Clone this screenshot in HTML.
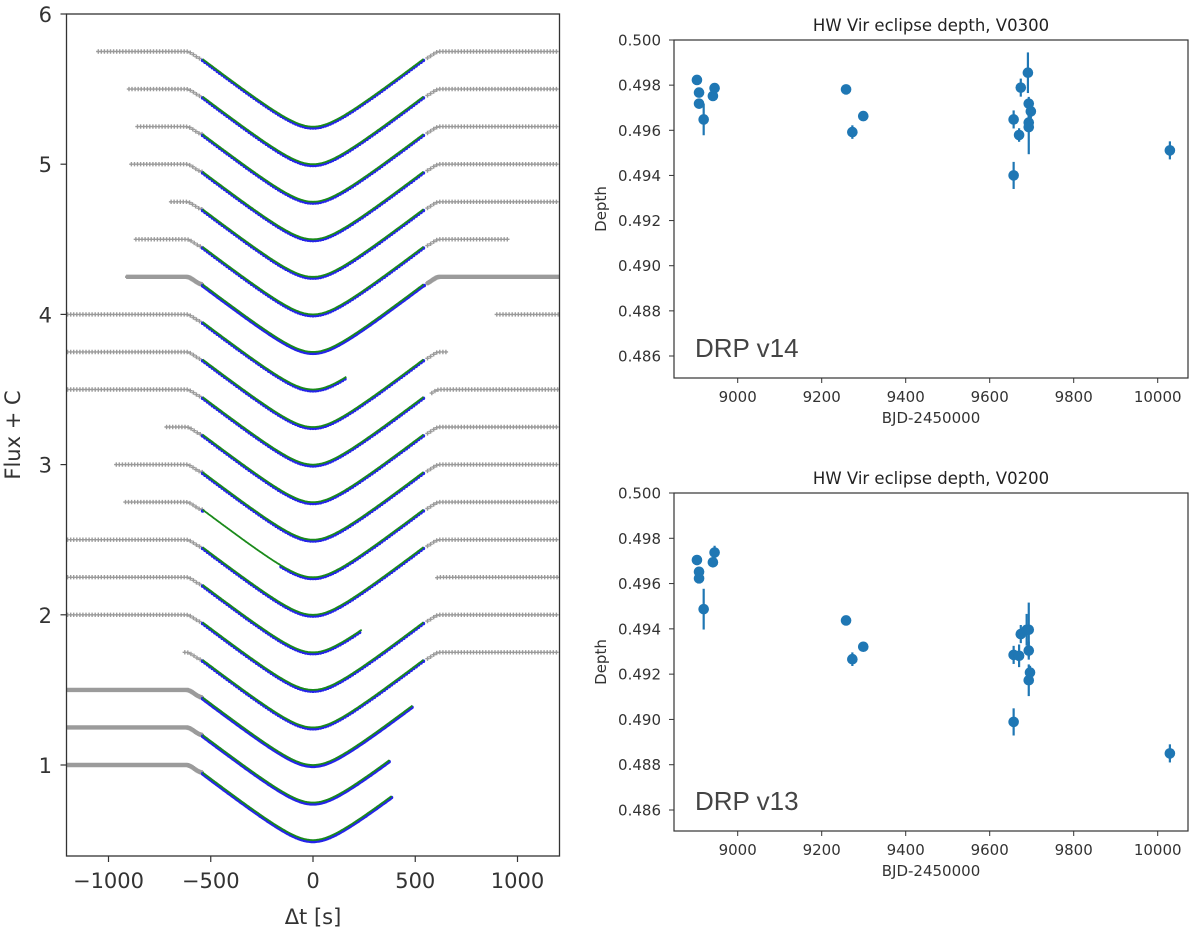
<!DOCTYPE html>
<html><head><meta charset="utf-8"><style>
html,body{margin:0;padding:0;background:#fff;}
svg{display:block;font-family:"DejaVu Sans","Liberation Sans",sans-serif;}
</style></head><body>
<svg id="fig" width="1200" height="931" viewBox="0 0 1200 931" xmlns="http://www.w3.org/2000/svg">
<g id="left"></g>
<g id="top"></g>
<g id="bot"></g>
</svg>
<script>
// ---- left panel data: one row per eclipse ----
const rowBaselines = [5.75,5.5,5.25,5.0,4.75,4.5,4.25,4.0,3.75,3.5,3.25,3.0,2.75,2.5,2.25,2.0,1.75,1.5,1.25,1.0];
const rowLeftStart = [-1050,-900,-858,-888,-694,-866,-908,-1200,-1200,-1200,-716,-962,-917,-1200,-1200,-1200,-627,-1200,-1200,-1200];
const rowDipEnd    = [540,540,540,540,540,540,545,163,540,540,540,540,540,540,238,540,540,486,374,384];
const rowRightStart= [560,560,560,560,560,560,560,899,560,581,560,560,560,560,608,560,560,null,null,null];
const rowRightEnd  = [1200,1200,1200,1200,1200,963,1200,1200,656,1200,1200,1200,1200,1200,1200,1200,1200,null,null,null];
const rowDense     = [0,0,0,0,0,0,1,0,0,0,0,0,0,0,0,0,0,1,1,1];
const rowGapStart  = [null,null,null,null,null,null,null,null,null,null,null,null,-540,null,null,null,null,null,null,null];
const rowGapEnd    = [null,null,null,null,null,null,null,null,null,null,null,null,-160,null,null,null,null,null,null,null];
const leftXTicks = [-1000,-500,0,500,1000];
const leftXTickLabels = ["\u22121000","\u2212500","0","500","1000"];
const leftYTicks = [1,2,3,4,5,6];

// ---- right panels data ----
const v14Dates = [8903,8908,8908,8919,8941,8945,9258,9273,9299,9657,9657,9670,9674,9691,9693,9693,9693,9698,10029];
const v14Depth = [0.49823,0.49767,0.49718,0.49648,0.49752,0.49787,0.49781,0.49592,0.49663,0.49648,0.49400,0.49579,0.49789,0.49855,0.49718,0.49634,0.49614,0.49684,0.49511];
const v14Err   = [0.0002,0.0002,0.0002,0.0007,0.0002,0.0002,0.0002,0.0003,0.0002,0.0004,0.0006,0.0003,0.0004,0.0009,0.0003,0.0004,0.0012,0.0003,0.0004];
const v13Dates = [8903,8908,8908,8919,8941,8945,9258,9273,9299,9657,9657,9670,9674,9688,9693,9693,9693,9696,10029];
const v13Depth = [0.49704,0.49652,0.49623,0.49487,0.49694,0.49737,0.49437,0.49266,0.49321,0.49285,0.48989,0.49281,0.49377,0.49396,0.49396,0.49304,0.49173,0.49207,0.48850];
const v13Err   = [0.0002,0.0002,0.0002,0.0009,0.0002,0.0003,0.0002,0.0003,0.0002,0.0004,0.0006,0.0005,0.0004,0.0007,0.0012,0.0004,0.0007,0.0003,0.0004];
const rXTicks = [9000,9200,9400,9600,9800,10000];
const rYTicks = [0.486,0.488,0.490,0.492,0.494,0.496,0.498,0.500];

const NS="http://www.w3.org/2000/svg";
function mk(parent,tag,attrs,text){const e=document.createElementNS(NS,tag);for(const k in attrs)e.setAttribute(k,attrs[k]);if(text!==undefined)e.textContent=text;parent.appendChild(e);return e;}

// ---- LEFT PANEL ----
const L={x0:66.5,x1:559.5,y0:14,y1:856};
const lx=t=>313+t*0.2045;
const ly=v=>14+(6-v)*150.2;
function dip(t){const a=Math.abs(t);
  if(a>=620) return 0;
  if(a>=540){const u=(620-a)/80;return 0.05*u*u*(3-2*u);}
  const c=125,k=0.45/(Math.sqrt(540*540+c*c)-c);
  return 0.5-k*(Math.sqrt(t*t+c*c)-c);}
const left=document.getElementById('left');
const clip=mk(left,'clipPath',{id:'lc'});mk(clip,'rect',{x:L.x0,y:L.y0,width:L.x1-L.x0,height:L.y1-L.y0});
const plot=mk(left,'g',{'clip-path':'url(#lc)'});
rowBaselines.forEach((b,i)=>{
  const g=mk(plot,'g',{});
  
  
  const step=rowDense[i]?4:15;
  let gp='';
  const addGray=(a,z)=>{for(let t=a;t<=z;t+=step){const X=lx(t),Y=ly(b-dip(t));gp+=`M${(X-2.2).toFixed(1)} ${Y.toFixed(1)}h4.4M${X.toFixed(1)} ${(Y-2.2).toFixed(1)}v4.4`;}};
  addGray(rowLeftStart[i],-542);
  if(rowRightStart[i]!==null) addGray(rowRightStart[i],rowRightEnd[i]);
  mk(g,'path',{d:gp,stroke:'#8a8a8a','stroke-width':rowDense[i]?2.4:1.4,fill:'none',opacity:0.85});
  // blue data points
  let bp='';const bs=rowDense[i]?4:12;
  for(let t=-540;t<=rowDipEnd[i];t+=bs){
    if(rowGapStart[i]!==null && t>rowGapStart[i]+10 && t<rowGapEnd[i]) continue;
    const X=lx(t),Y=ly(b-dip(t))+1.3;bp+=`M${(X-1.8).toFixed(1)} ${Y.toFixed(1)}a1.8 1.8 0 1 0 3.6 0a1.8 1.8 0 1 0 -3.6 0`;}
  mk(g,'path',{d:bp,fill:'#2424e8',stroke:'none'});
  // green model
  let mp='';const end=Math.min(rowDipEnd[i],540);
  for(let t=-540;t<=end;t+=5){mp+=(t===-540?'M':'L')+lx(t).toFixed(1)+' '+ly(b-dip(t)).toFixed(1);}
  mp+='L'+lx(end).toFixed(1)+' '+ly(b-dip(end)).toFixed(1);
  mk(g,'path',{d:mp,stroke:'#1a8a1a','stroke-width':1.8,fill:'none'});
});
mk(left,'rect',{x:L.x0,y:L.y0,width:L.x1-L.x0,height:L.y1-L.y0,fill:'none',stroke:'#333','stroke-width':1.3,});
leftXTicks.forEach((t,i)=>{const X=lx(t);
  mk(left,'line',{x1:X,x2:X,y1:L.y1,y2:L.y1+6,stroke:'#333','stroke-width':1.2});
  const tx=mk(left,'text',{x:X,y:888,'text-anchor':'middle','font-size':21,fill:'#333'},leftXTickLabels[i]);
  
  
});
leftYTicks.forEach(v=>{const Y=ly(v);
  mk(left,'line',{x1:L.x0-6,x2:L.x0,y1:Y,y2:Y,stroke:'#333','stroke-width':1.2});
  const tx=mk(left,'text',{x:52,y:Y+8,'text-anchor':'end','font-size':21,fill:'#333'},String(v));
  
  
});
mk(left,'text',{x:313,y:924,'text-anchor':'middle','font-size':21,fill:'#333',},'\u0394t [s]');
mk(left,'text',{x:20,y:435,'text-anchor':'middle','font-size':21,fill:'#333',transform:'rotate(-90 20 435)',},'Flux + C');

// ---- RIGHT PANELS ----
function depthPanel(gid,top,bottom,title,label,dates,depth,err){
  const g=document.getElementById(gid);
  const F={x0:674,x1:1188,y0:top,y1:bottom};
  const px=d=>737.7+(d-9000)*0.42;
  const pxy=v=>top+(0.500-v)/0.014*((top===40?356:810)-top);
  mk(g,'rect',{x:F.x0,y:F.y0,width:F.x1-F.x0,height:F.y1-F.y0,fill:'none',stroke:'#333','stroke-width':1.2,});
  rXTicks.forEach(d=>{const X=px(d);
    mk(g,'line',{x1:X,x2:X,y1:F.y1,y2:F.y1+5,stroke:'#333','stroke-width':1});
    const t=mk(g,'text',{x:X,y:F.y1+24,'text-anchor':'middle','font-size':15,fill:'#333'},String(d));
    
    
  });
  rYTicks.forEach(v=>{const Y=pxy(v);
    mk(g,'line',{x1:F.x0-5,x2:F.x0,y1:Y,y2:Y,stroke:'#333','stroke-width':1});
    const t=mk(g,'text',{x:661,y:Y+5.5,'text-anchor':'end','font-size':15,fill:'#333'},v.toFixed(3));
    
    
  });
  mk(g,'text',{x:931,y:top-9,'text-anchor':'middle','font-size':16.5,fill:'#222',},title);
  mk(g,'text',{x:931,y:F.y1+45,'text-anchor':'middle','font-size':15,fill:'#333',},'BJD-2450000');
  const cy=(top+bottom)/2;
  mk(g,'text',{x:606,y:cy,'text-anchor':'middle','font-size':15,fill:'#333',transform:`rotate(-90 606 ${cy})`,},'Depth');
  mk(g,'text',{x:695,y:F.y1-21,'font-size':26,fill:'#444','font-family':'Liberation Sans, sans-serif',},label);
  dates.forEach((d,i)=>{const X=px(d),Y=pxy(depth[i]);
    const e=mk(g,'line',{x1:X,x2:X,y1:pxy(depth[i]+err[i]),y2:pxy(depth[i]-err[i]),stroke:'#1f77b4','stroke-width':2.2});
    
    
    const c=mk(g,'circle',{cx:X,cy:Y,r:5.3,fill:'#1f77b4'});
    
    
  });
}
depthPanel('top',40,378,'HW Vir eclipse depth, V0300','DRP v14',v14Dates,v14Depth,v14Err);
depthPanel('bot',493,831,'HW Vir eclipse depth, V0200','DRP v13',v13Dates,v13Depth,v13Err);
</script>
</body></html>
